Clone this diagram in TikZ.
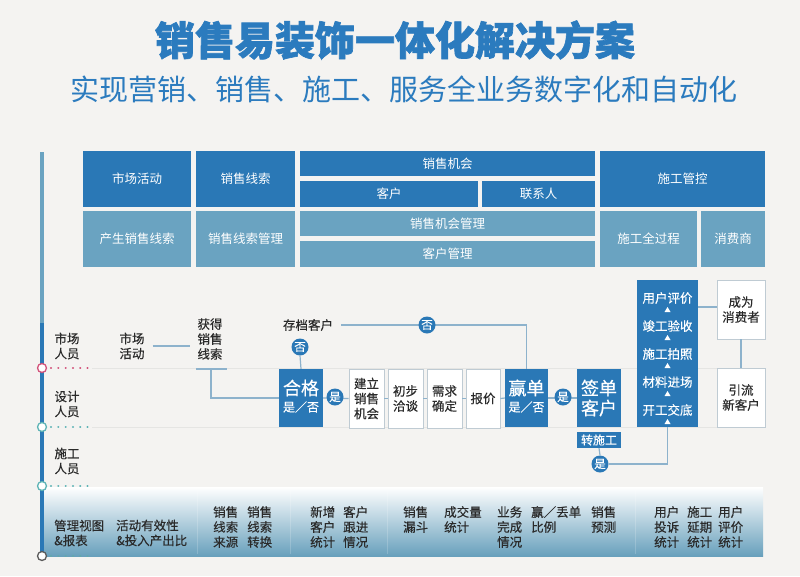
\documentclass[tikz,border=0pt]{standalone}
\usepackage{fontspec}
\setmainfont{Noto Sans CJK SC}
\newfontfamily\heavyfont{Noto Sans CJK SC}[BoldFeatures={FakeBold=1.6}]
\newfontfamily\medfont{Noto Sans CJK SC}[FakeBold=0.35]
\definecolor{dblue}{HTML}{2A78B6}
\definecolor{mblue}{HTML}{6AA3C1}
\definecolor{titleblue}{HTML}{2B7BBE}
\definecolor{conn}{HTML}{8DB2CC}
\definecolor{bg}{HTML}{F4F3F1}
\definecolor{txt}{HTML}{2A2A2A}
\definecolor{pinkc}{HTML}{D2527A}
\definecolor{tealc}{HTML}{5DB3B5}
\definecolor{greyc}{HTML}{5A5A5A}
\definecolor{boxb}{HTML}{BFCBD3}
\definecolor{bandb}{HTML}{68A0BC}
\definecolor{faint}{HTML}{E5E5E3}
\begin{document}
\begin{tikzpicture}[x=1pt,y=-1pt,
  topbox/.style={fill=dblue,text=white,inner sep=0pt,font=\fontsize{12.5}{15}\selectfont},
  midbox/.style={fill=mblue,text=white,inner sep=0pt,font=\fontsize{12.5}{15}\selectfont},
  dbox/.style={fill=dblue,inner sep=0pt},
  wbox/.style={fill=white,draw=boxb,line width=0.8pt,inner sep=0pt,text=txt,align=center,font=\medfont\fontsize{12.5}{15}\selectfont},
  wtbig/.style={text=white,inner sep=0pt,font=\medfont\fontsize{18}{20}\selectfont},
  wtsm/.style={text=white,inner sep=0pt,font=\medfont\fontsize{12}{14}\selectfont},
  wtcol/.style={text=white,inner sep=0pt,font=\medfont\fontsize{12.5}{15}\selectfont},
  lbl/.style={text=txt,inner sep=0pt,align=center,font=\medfont\fontsize{12.5}{15}\selectfont},
  bandtxt/.style={text=txt,inner sep=0pt,align=left,anchor=west,font=\medfont\fontsize{12.5}{15}\selectfont},
  yn/.style={circle,fill=dblue,text=white,inner sep=0pt,minimum size=17pt,font=\medfont\fontsize{11.5}{12}\selectfont},
  conn/.style={draw=conn,line width=1.2pt},
  tri/.style={fill=white},
  dots/.style={line width=2.2pt,dash pattern=on 0.1pt off 7.2pt,line cap=round}
]
\fill[bg] (0,0) rectangle (800,576);
\useasboundingbox (0,0) rectangle (800,576);

% titles
\node[font=\heavyfont\bfseries\fontsize{40}{44}\selectfont,text=titleblue,inner sep=0pt] (title) at (395,40) {销售易装饰一体化解决方案};
\node[font=\fontsize{29}{32}\selectfont,text=titleblue,inner sep=0pt] (subtitle) at (404,89) {实现营销、销售、施工、服务全业务数字化和自动化};

% top grid
\node[topbox,minimum width=108pt,minimum height=56pt] (g11) at (137,179) {市场活动};
\node[topbox,minimum width=99pt,minimum height=56pt] (g12) at (245.5,179) {销售线索};
\node[topbox,minimum width=295pt,minimum height=25pt] (g13) at (447.5,163.5) {销售机会};
\node[topbox,minimum width=178pt,minimum height=26pt] (g13a) at (389,194) {客户};
\node[topbox,minimum width=113pt,minimum height=26pt] (g13b) at (538.5,194) {联系人};
\node[topbox,minimum width=165pt,minimum height=56pt] (g14) at (682.5,179) {施工管控};
\node[midbox,minimum width=108pt,minimum height=56pt] (g21) at (137,239) {产生销售线索};
\node[midbox,minimum width=99pt,minimum height=56pt] (g22) at (245.5,239) {销售线索管理};
\node[midbox,minimum width=295pt,minimum height=25pt] (g23) at (447.5,223.5) {销售机会管理};
\node[midbox,minimum width=295pt,minimum height=26pt] (g23a) at (447.5,254) {客户管理};
\node[midbox,minimum width=97pt,minimum height=56pt] (g24) at (648.5,239) {施工全过程};
\node[midbox,minimum width=64pt,minimum height=56pt] (g24a) at (733,239) {消费商};

% faint lane lines
\draw[faint,line width=0.8pt] (92,368) -- (765,368);
\draw[faint,line width=0.8pt] (92,427) -- (765,427);

% bottom band
\shade[top color=white,bottom color=bandb] (42,487) rectangle (763,556);
\foreach \sx in {197,290,387,635} \draw[white,opacity=0.18,line width=0.8pt] (\sx,490) -- (\sx,554);

% axis
\draw[mblue,line width=4pt] (42,152) -- (42,323);
\draw[dblue,line width=4pt] (42,323) -- (42,555);
\draw[pinkc,dots] (51,368) -- (92,368);
\draw[tealc,dots] (51,427) -- (92,427);
\draw[tealc,dots] (51,486) -- (92,486);
\draw[tealc!80!gray,dots] (51,556) -- (92,556);
\draw[pinkc,line width=1.3pt,fill=white] (42,368) circle (4.5pt);
\draw[tealc,line width=1.3pt,fill=white] (42,427) circle (4.5pt);
\draw[tealc,line width=1.3pt,fill=white] (42,486) circle (4.5pt);
\draw[greyc,line width=1.3pt,fill=white] (42,556) circle (4.5pt);

% lane labels
\node[lbl] (lane1) at (67,346) {市场\\人员};
\node[lbl] (lane2) at (67,404) {设计\\人员};
\node[lbl] (lane3) at (67,461) {施工\\人员};

% flow
\node[lbl] (scact) at (132,346) {市场\\活动};
\node[lbl] (huode) at (210,339) {获得\\销售\\线索};
\coordinate (ulA) at (196,369);
\coordinate (ulB) at (227,369);
\coordinate (ulM) at (211,369);
\draw[conn] ([xshift=8pt]scact.east) -- ([xshift=-7pt]scact.east -| huode.west);
\draw[conn,line width=2.2pt] (ulA) -- (ulB);

\node[dbox,minimum width=44pt,minimum height=58pt] (hege) at (301,398) {};
\node[wtbig] (hegeA) at (301,388) {合格};
\node[wtsm] (hegeB) at (301,407) {是／否};
\draw[conn] (ulM) |- (hege.west);

\node[wbox,minimum width=35pt,minimum height=59pt] (jianli) at (366.5,398.5) {建立\\销售\\机会};
\node[wbox,minimum width=35pt,minimum height=59pt] (chubu) at (405.5,398.5) {初步\\洽谈};
\node[wbox,minimum width=35pt,minimum height=59pt] (xuqiu) at (444.5,398.5) {需求\\确定};
\node[wbox,minimum width=34pt,minimum height=59pt] (baojia) at (483,398.5) {报价};

\node[dbox,minimum width=43pt,minimum height=58pt] (yingdan) at (526.5,398) {};
\node[wtbig] (yingdanA) at (526.5,388) {赢单};
\node[wtsm] (yingdanB) at (526.5,407) {是／否};

\node[dbox,minimum width=44pt,minimum height=58pt] (qiandan) at (599,398) {};
\node[wtbig] (qiandanA) at (599,388) {签单};
\node[wtbig] (qiandanB) at (599,408) {客户};
\node[dbox,text=white,minimum width=44pt,minimum height=16pt,font=\medfont\fontsize{12}{14}\selectfont] (zhuansg) at (599,440) {转施工};

\node[lbl] (cundang) at (308,325) {存档客户};

% connectors
\draw[conn] ([xshift=8pt]cundang.east) -| (yingdan.north);
\draw[conn] (hege.east) -- (jianli.west);
\draw[conn] (jianli.east) -- (chubu.west);
\draw[conn] (chubu.east) -- (xuqiu.west);
\draw[conn] (xuqiu.east) -- (baojia.west);
\draw[conn] (baojia.east) -- (yingdan.west);
\draw[conn] (yingdan.east) -- (qiandan.west);

\node[yn] (no1) at (300,347) {否};
\draw[conn] (no1.south) -- (hege.north);
\node[yn] (no2) at (427,325) {否};
\node[yn] (yes1) at (335,397) {是};
\node[yn] (yes2) at (563,397) {是};

% construction column
\node[dbox,minimum width=61pt,minimum height=147pt] (col) at (667.5,353.5) {};
\node[wtcol] (c1) at (667.5,298) {用户评价};
\node[wtcol] (c2) at (667.5,326) {竣工验收};
\node[wtcol] (c3) at (667.5,354) {施工拍照};
\node[wtcol] (c4) at (667.5,382) {材料进场};
\node[wtcol] (c5) at (667.5,410) {开工交底};
\foreach \ty in {310,338,366,394,422}
  \fill[tri] (664.5,\ty+2) -- (670.5,\ty+2) -- (667.5,\ty-3) -- cycle;

\node[yn] (yes3) at (600,464) {是};
\draw[conn] (zhuansg.south) -- (yes3.north);
\draw[conn] (yes3.east) -| (col.south);

\node[wbox,minimum width=48pt,minimum height=59pt] (chengwei) at (741,309.5) {成为\\消费者};
\node[wbox,minimum width=48pt,minimum height=59pt] (yinliu) at (741,397.5) {引流\\新客户};
\draw[conn] (col.east |- 0,307) -- (chengwei.west |- 0,307);
\draw[conn] (chengwei.south) -- (yinliu.north);

% band text
\node[bandtxt] (b1) at (54,533) {管理视图\\\&报表};
\node[bandtxt] (b2) at (116,533) {活动有效性\\\&投入产出比};
\node[bandtxt] (b3) at (213,527) {销售\\线索\\来源};
\node[bandtxt] (b4) at (247,527) {销售\\线索\\转换};
\node[bandtxt] (b5) at (310,527) {新增\\客户\\统计};
\node[bandtxt] (b6) at (343,527) {客户\\跟进\\情况};
\node[bandtxt] (b7) at (403,519.5) {销售\\漏斗};
\node[bandtxt] (b8) at (444,519.5) {成交量\\统计};
\node[bandtxt] (b9) at (497,527) {业务\\完成\\情况};
\node[bandtxt] (b10) at (531,519.5) {赢／丢单\\比例};
\node[bandtxt] (b11) at (591,519.5) {销售\\预测};
\node[bandtxt] (b12) at (654,527) {用户\\投诉\\统计};
\node[bandtxt] (b13) at (687,527) {施工\\延期\\统计};
\node[bandtxt] (b14) at (718,527) {用户\\评价\\统计};
\end{tikzpicture}
\end{document}
